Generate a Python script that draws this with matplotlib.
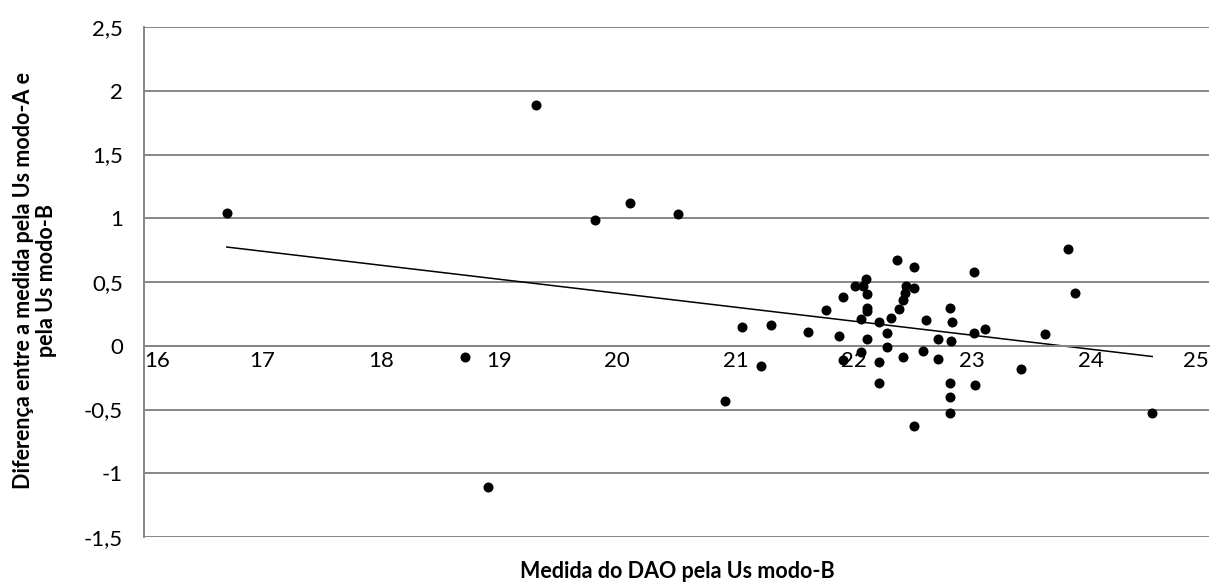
import numpy as np
import matplotlib
matplotlib.use("Agg")
import matplotlib.pyplot as plt
from matplotlib.ticker import FuncFormatter, MultipleLocator

# Medida do DAO pela Us modo-B (x) vs diferenca A-B (y)
dao_b = [16.70, 18.71, 18.91, 19.31, 19.81, 20.11, 20.51, 20.91, 21.05, 21.21,
         21.30, 21.61, 21.76, 21.87, 21.91, 21.91, 22.01, 22.06, 22.06, 22.08,
         22.10, 22.11, 22.11, 22.11, 22.11, 22.21, 22.21, 22.21, 22.28, 22.28,
         22.31, 22.36, 22.38, 22.41, 22.41, 22.43, 22.44, 22.51, 22.51, 22.51,
         22.58, 22.61, 22.71, 22.71, 22.81, 22.81, 22.81, 22.81, 22.82, 22.83,
         23.01, 23.01, 23.02, 23.11, 23.41, 23.61, 23.81, 23.87, 24.52]
diff_ab = [1.04, -0.09, -1.11, 1.885, 0.99, 1.12, 1.03, -0.43, 0.15, -0.16,
           0.16, 0.11, 0.28, 0.08, 0.38, -0.11, 0.465, 0.21, -0.05, 0.47,
           0.52, 0.405, 0.295, 0.27, 0.05, 0.19, -0.13, -0.29, 0.10, -0.01,
           0.22, 0.675, 0.29, 0.355, -0.09, 0.41, 0.47, 0.62, 0.45, -0.63,
           -0.04, 0.20, 0.05, -0.10, 0.30, -0.29, -0.40, -0.53, 0.04, 0.19,
           0.58, 0.10, -0.31, 0.13, -0.18, 0.09, 0.76, 0.41, -0.53]

x_ticks = list(range(16, 26))
grid_col = "#868686"

plt.rcParams['font.family'] = ['Lato', 'DejaVu Sans']

fig = plt.figure(figsize=(12.26, 5.85), dpi=100)
ax = fig.add_axes([144 / 1226, 1 - 537 / 585, (1209 - 144) / 1226, (537 - 27) / 585])

x = np.array(dao_b)
y = np.array(diff_ab)
ax.scatter(x, y, s=52, color="black", zorder=3, linewidths=0)

# linear trend line, like Excel's
k, b = np.polyfit(x, y, 1)
xl = np.array([x.min(), x.max()])
ax.plot(xl, k * xl + b, color="black", lw=1.1, zorder=2)

ax.set_xlim(16, 25)
ax.set_ylim(-1.5, 2.5)
ax.yaxis.set_major_locator(MultipleLocator(0.5))
ax.set_xticks(x_ticks)

fmt = FuncFormatter(lambda v, p: ("%g" % v).replace(".", ","))
ax.yaxis.set_major_formatter(fmt)

ax.grid(axis="y", color=grid_col, lw=1.4, zorder=0)
for s in ["top", "right"]:
    ax.spines[s].set_visible(False)
ax.spines["left"].set_color(grid_col)
ax.spines["left"].set_linewidth(1.4)
ax.spines["bottom"].set_position(("data", 0))
ax.spines["bottom"].set_color(grid_col)
ax.spines["bottom"].set_linewidth(1.4)

ax.tick_params(axis="both", length=0, labelsize=16, colors="black")
ax.tick_params(axis="y", pad=15)
ax.tick_params(axis="x", pad=4)
xt = ax.get_xticklabels()
xt[0].set_ha("left")
xt[-1].set_ha("right")

fig.text(677 / 1226, 1 - 572 / 585, "Medida do DAO pela Us modo-B",
         ha="center", va="center", fontsize=15.5, fontweight="bold")
fig.text(35 / 1226, 1 - 280 / 585, "Diferença entre a medida pela Us modo-A e\npela Us modo-B",
         ha="center", va="center", rotation=90, fontsize=15.5, fontweight="bold",
         linespacing=1.15)

fig.savefig("out.png", dpi=100)
